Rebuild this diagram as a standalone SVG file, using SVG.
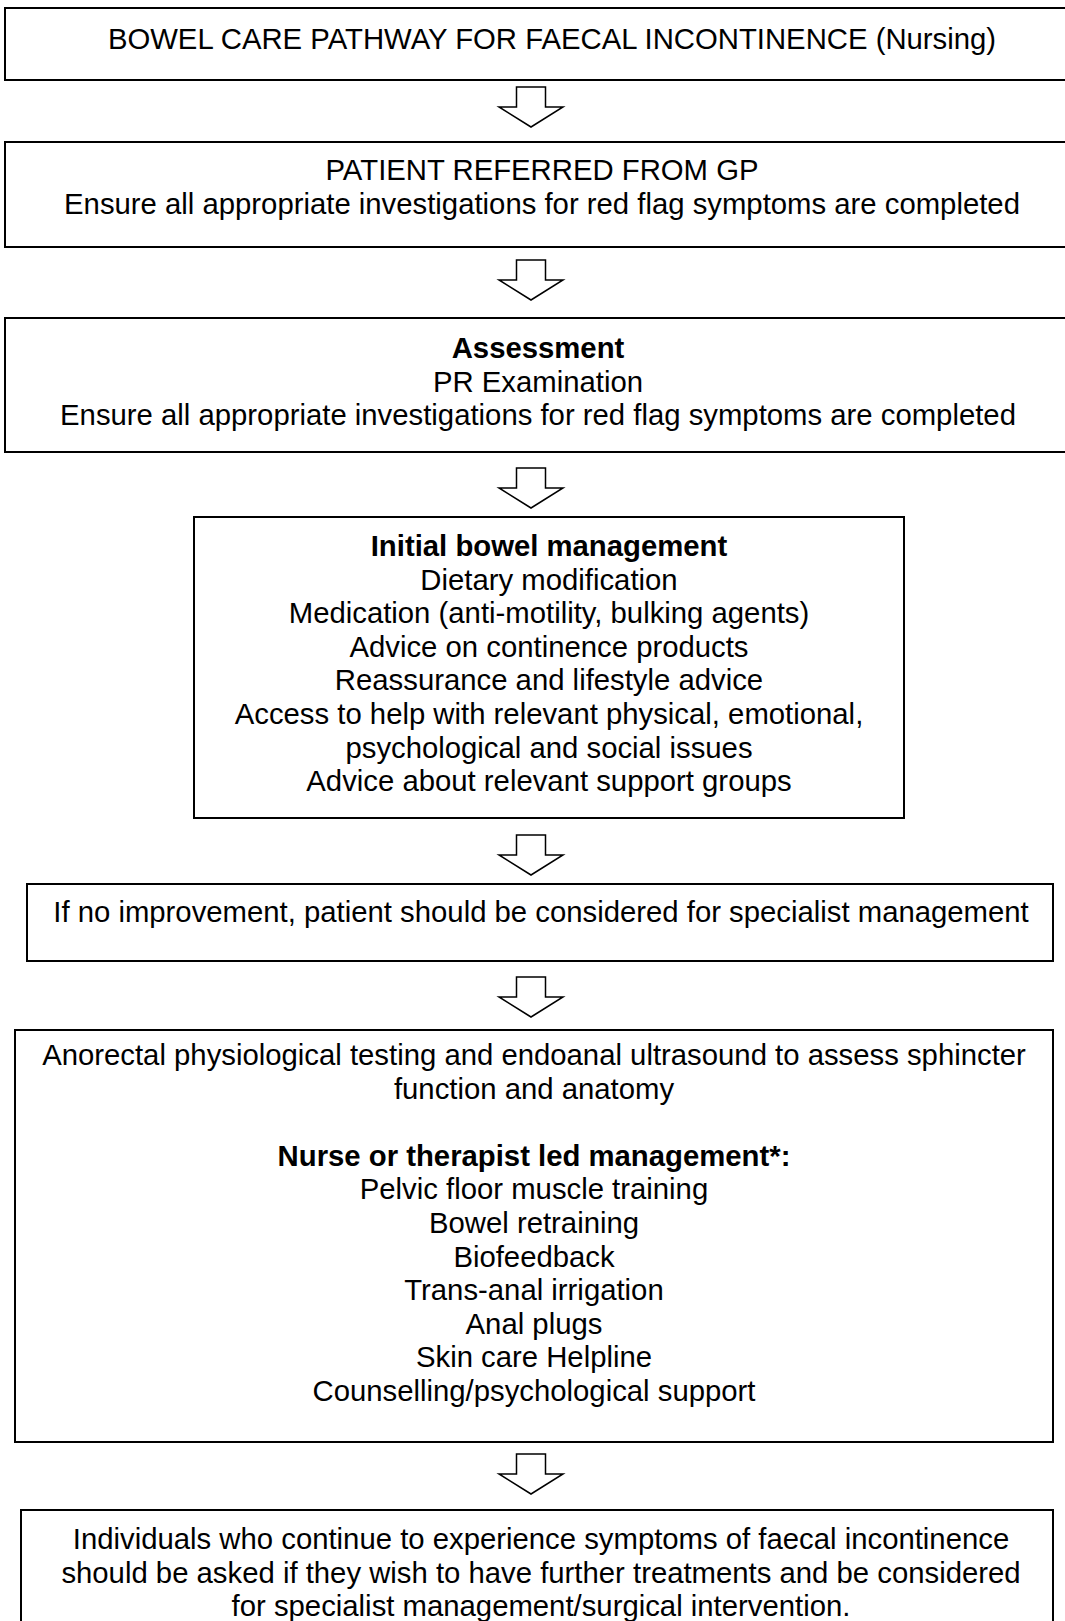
<svg xmlns="http://www.w3.org/2000/svg" width="1065" height="1621" viewBox="0 0 1065 1621">
<style>
.box{fill:#fff;stroke:#000;stroke-width:2}
.arr{fill:#fff;stroke:#000;stroke-width:1.5;stroke-linejoin:miter}
text{font-family:"Liberation Sans",Arial,sans-serif;font-size:29.3px;fill:#000;text-anchor:middle}
.b{font-weight:bold}
</style>
<defs>
<polygon id="arrow" class="arr" points="-14.5,0 14.5,0 14.5,20 32,20 0,40 -32,20 -14.5,20"/>
</defs>
<rect width="1065" height="1621" fill="#fff"/>
<g id="connectors">
<use href="#arrow" x="531" y="87"/>
<use href="#arrow" x="531" y="260"/>
<use href="#arrow" x="531" y="468"/>
<use href="#arrow" x="531" y="835"/>
<use href="#arrow" x="531" y="977"/>
<use href="#arrow" x="531" y="1454"/>
</g>
<g id="n1">
<rect class="box" x="5" y="8" width="1080" height="72"/>
<text x="552" y="49">BOWEL CARE PATHWAY FOR FAECAL INCONTINENCE (Nursing)</text>
</g>
<g id="n2">
<rect class="box" x="5" y="142" width="1080" height="105"/>
<text x="542" y="179.5">PATIENT REFERRED FROM GP</text>
<text x="542" y="214">Ensure all appropriate investigations for red flag symptoms are completed</text>
</g>
<g id="n3">
<rect class="box" x="5" y="318" width="1080" height="134"/>
<text class="b" x="538" y="358">Assessment</text>
<text x="538" y="391.5">PR Examination</text>
<text x="538" y="425">Ensure all appropriate investigations for red flag symptoms are completed</text>
</g>
<g id="n4">
<rect class="box" x="194" y="517" width="710" height="301"/>
<text class="b" x="549" y="556">Initial bowel management</text>
<text x="549" y="589.6">Dietary modification</text>
<text x="549" y="623.2">Medication (anti-motility, bulking agents)</text>
<text x="549" y="656.8">Advice on continence products</text>
<text x="549" y="690.4">Reassurance and lifestyle advice</text>
<text x="549" y="724">Access to help with relevant physical, emotional,</text>
<text x="549" y="757.6">psychological and social issues</text>
<text x="549" y="791.2">Advice about relevant support groups</text>
</g>
<g id="n5">
<rect class="box" x="27" y="884" width="1026" height="77"/>
<text x="541" y="922">If no improvement, patient should be considered for specialist management</text>
</g>
<g id="n6">
<rect class="box" x="15" y="1030" width="1038" height="412"/>
<text x="534" y="1065">Anorectal physiological testing and endoanal ultrasound to assess sphincter</text>
<text x="534" y="1098.6">function and anatomy</text>
<text class="b" x="534" y="1165.8">Nurse or therapist led management*:</text>
<text x="534" y="1199.4">Pelvic floor muscle training</text>
<text x="534" y="1233">Bowel retraining</text>
<text x="534" y="1266.6">Biofeedback</text>
<text x="534" y="1300.2">Trans-anal irrigation</text>
<text x="534" y="1333.8">Anal plugs</text>
<text x="534" y="1367.4">Skin care Helpline</text>
<text x="534" y="1401">Counselling/psychological support</text>
</g>
<g id="n7">
<rect class="box" x="21" y="1510" width="1032" height="130"/>
<text x="541" y="1549">Individuals who continue to experience symptoms of faecal incontinence</text>
<text x="541" y="1582.5">should be asked if they wish to have further treatments and be considered</text>
<text x="541" y="1616">for specialist management/surgical intervention.</text>
</g>
</svg>
